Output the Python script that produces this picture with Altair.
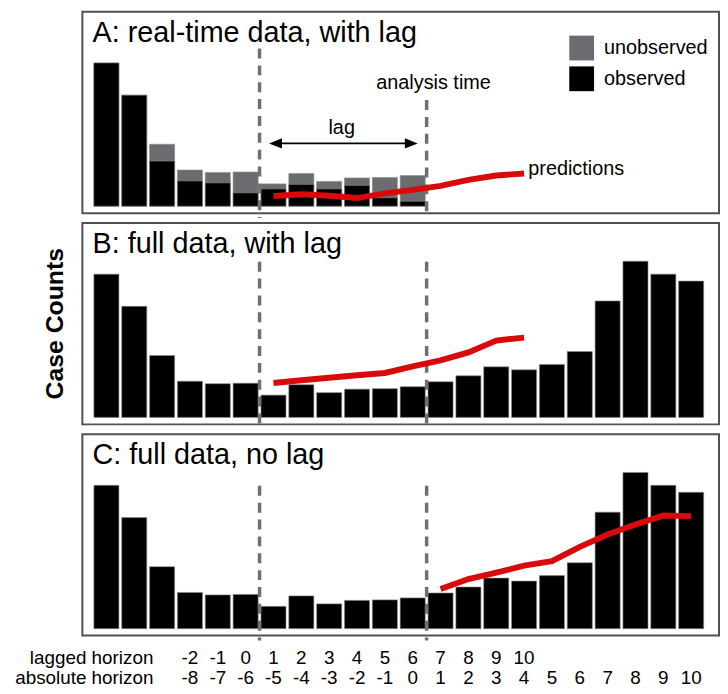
import altair as alt
import pandas as pd

# ---------------- data ----------------
bar_index = [1, 2, 3, 4, 5, 6, 7, 8, 9, 10, 11, 12, 13, 14, 15, 16, 17, 18, 19, 20, 21, 22]
full_counts = [144.5, 112, 62.5, 36.5, 34, 34.5, 22.5, 33, 25, 28.5, 29, 31,
               36, 42, 51, 48, 53.5, 66.5, 117.5, 157.5, 144.5, 137.5]
realtime_index = [1, 2, 3, 4, 5, 6, 7, 8, 9, 10, 11, 12]
realtime_total = [144.5, 112, 62.5, 36.5, 34, 34.5, 22.5, 33, 25, 28.5, 29, 31]
realtime_observed = [144.5, 112, 45.5, 25.5, 23.5, 13.5, 17.5, 22, 17.5, 21, 8.5, 5]

lag_pred_index = [7, 8, 9, 10, 11, 12, 13, 14, 15, 16]
pred_realtime_lag = [10.3, 12, 10.5, 8.2, 13, 16.5, 20.5, 26.5, 31, 33]
pred_full_lag = [34.8, 37.5, 40, 42.5, 44.8, 51.5, 57.5, 65.5, 77.5, 80.5]
nolag_pred_index = [13, 14, 15, 16, 17, 18, 19, 20, 21, 22]
pred_full_nolag = [40, 50, 56.5, 63.5, 68, 82.5, 95, 105, 114, 113.5]

lag_window_bounds = [6.5, 12.5]        # start of lag window, analysis time
dash_tops_A = [159, 107]
dash_tops_B = [157, 157]
dash_tops_C = [144, 144]

lagged_horizon = [-2, -1, 0, 1, 2, 3, 4, 5, 6, 7, 8, 9, 10]
absolute_horizon = [-8, -7, -6, -5, -4, -3, -2, -1, 0, 1, 2, 3, 4, 5, 6, 7, 8, 9, 10]
row_titles = ["lagged horizon", "absolute horizon"]
panel_titles = ["A: real-time data, with lag", "B: full data, with lag", "C: full data, no lag"]
legend_labels = ["unobserved", "observed"]
annotation_texts = ["lag", "analysis time", "predictions"]
y_title = "Case Counts"

# ---------------- style ----------------
FONT = "Liberation Sans"
W, H = 642, 203
XS = alt.Scale(domain=[0.137, 23.0], nice=False, zero=False)
YS = alt.Scale(domain=[-7, 196], nice=False, zero=False)
RED = "#d90a0a"
GRAY = "#6b6c6f"
DASH = "#707070"

x_axis = alt.Axis(values=list(range(1, 23, 2)), labels=False, title=None, domain=False,
                  grid=False, ticks=True, tickSize=5, tickWidth=1.5, tickColor="#555555")


def full_bars():
    df = pd.DataFrame({"bar": bar_index, "count": full_counts})
    return (alt.Chart(df)
            .transform_calculate(x0="datum.bar - 0.45", x1="datum.bar + 0.45", base="0")
            .mark_bar(color="black", stroke="#8a8a8a", strokeWidth=0.6)
            .encode(x=alt.X("x0:Q", scale=XS, axis=x_axis), x2="x1:Q",
                    y=alt.Y("count:Q", scale=YS, axis=None, stack=None),
                    y2="base:Q"))


def realtime_bars():
    df = pd.concat([
        pd.DataFrame({"bar": realtime_index, "count": realtime_total, "status": legend_labels[0]}),
        pd.DataFrame({"bar": realtime_index, "count": realtime_observed, "status": legend_labels[1]}),
    ], ignore_index=True)
    return (alt.Chart(df)
            .transform_calculate(x0="datum.bar - 0.45", x1="datum.bar + 0.45", base="0")
            .mark_bar(stroke="#8a8a8a", strokeWidth=0.6)
            .encode(x=alt.X("x0:Q", scale=XS, axis=x_axis), x2="x1:Q",
                    y=alt.Y("count:Q", scale=YS, axis=None, stack=None),
                    y2="base:Q",
                    color=alt.Color("status:N",
                                    scale=alt.Scale(domain=legend_labels, range=[GRAY, "black"]),
                                    legend=alt.Legend(title=None, orient="none", legendX=491, legendY=24,
                                                      symbolType="square", symbolSize=625,
                                                      symbolStrokeWidth=0, symbolOpacity=1,
                                                      labelFontSize=20, labelFont=FONT,
                                                      labelColor="black", labelOffset=10,
                                                      rowPadding=6, padding=0))))


def dashes(tops):
    df = pd.DataFrame({"vx": lag_window_bounds, "top": tops})
    return (alt.Chart(df)
            .mark_rule(strokeDash=[10, 7], strokeWidth=3.5, color=DASH)
            .encode(x=alt.X("vx:Q", scale=XS, axis=None),
                    y=alt.Y("top:Q", scale=YS, axis=None),
                    y2=alt.value(H + 5)))


def pred_line(idx, vals):
    df = pd.DataFrame({"bar": idx, "pred": vals})
    return (alt.Chart(df)
            .mark_line(color=RED, strokeWidth=6, strokeCap="butt")
            .encode(x=alt.X("bar:Q", scale=XS, axis=None),
                    y=alt.Y("pred:Q", scale=YS, axis=None)))


def panel_title(t):
    return (alt.Chart(pd.DataFrame({"t": [t]}))
            .mark_text(align="left", baseline="alphabetic", fontSize=29, font=FONT, color="black")
            .encode(x=alt.value(10.3), y=alt.value(30), text="t:N"))


def y_label(t):
    return (alt.Chart(pd.DataFrame({"t": [t]}))
            .mark_text(align="center", baseline="alphabetic", angle=270, fontSize=25,
                       fontWeight="bold", font=FONT, color="black")
            .encode(x=alt.value(-20), y=alt.value(H / 2), text="t:N"))


def note(t, x, y, align="center"):
    return (alt.Chart(pd.DataFrame({"t": [t], "x": [x], "y": [y]}))
            .mark_text(align=align, baseline="alphabetic", fontSize=20, font=FONT, color="black")
            .encode(x=alt.X("x:Q", scale=XS, axis=None), y=alt.Y("y:Q", scale=YS, axis=None),
                    text="t:N"))


def arrow():
    line = (alt.Chart(pd.DataFrame({"a": [6.84 + 0.3], "b": [12.18 - 0.3], "y": [63.3]}))
            .mark_rule(color="black", strokeWidth=1.8)
            .encode(x=alt.X("a:Q", scale=XS, axis=None), x2="b:Q",
                    y=alt.Y("y:Q", scale=YS, axis=None)))
    left = (alt.Chart(pd.DataFrame({"x": [6.84], "y": [63.3]}))
            .mark_point(shape="M0,0L2,-0.8L2,0.8Z", filled=True, size=169, color="black",
                        opacity=1, strokeWidth=0)
            .encode(x=alt.X("x:Q", scale=XS, axis=None), y=alt.Y("y:Q", scale=YS, axis=None)))
    right = (alt.Chart(pd.DataFrame({"x": [12.18], "y": [63.3]}))
             .mark_point(shape="M0,0L-2,-0.8L-2,0.8Z", filled=True, size=169, color="black",
                         opacity=1, strokeWidth=0)
             .encode(x=alt.X("x:Q", scale=XS, axis=None), y=alt.Y("y:Q", scale=YS, axis=None)))
    return [line, left, right]


def horizon_row(values, offset, ypix):
    df = pd.DataFrame({"h": values, "label": [str(v) for v in values]})
    return (alt.Chart(df)
            .transform_calculate(bar=f"datum.h + {offset}")
            .mark_text(align="center", baseline="alphabetic", fontSize=19, font=FONT, color="black")
            .encode(x=alt.X("bar:Q", scale=XS, axis=None), y=alt.value(ypix), text="label:N"))


def row_title(t, ypix):
    return (alt.Chart(pd.DataFrame({"t": [t]}))
            .mark_text(align="right", baseline="alphabetic", fontSize=19, font=FONT, color="black")
            .encode(x=alt.value(71.6), y=alt.value(ypix), text="t:N"))


# ---------------- panels ----------------
panel_a = alt.layer(
    realtime_bars(),
    dashes(dash_tops_A),
    pred_line(lag_pred_index, pred_realtime_lag),
    panel_title(panel_titles[0]),
    note(annotation_texts[0], 9.45, 72.7),
    *arrow(),
    note(annotation_texts[1], 10.69, 118, align="left"),
    note(annotation_texts[2], 16.15, 31.5, align="left"),
).properties(width=W, height=H)

panel_b = alt.layer(
    full_bars(),
    dashes(dash_tops_B),
    pred_line(lag_pred_index, pred_full_lag),
    panel_title(panel_titles[1]),
    y_label(y_title),
).properties(width=W, height=H)

ROW1, ROW2 = H + 29, H + 48.5
panel_c = alt.layer(
    full_bars(),
    dashes(dash_tops_C),
    pred_line(nolag_pred_index, pred_full_nolag),
    panel_title(panel_titles[2]),
    row_title(row_titles[0], ROW1),
    row_title(row_titles[1], ROW2),
    horizon_row(lagged_horizon, 6, ROW1),
    horizon_row(absolute_horizon, 12, ROW2),
).properties(width=W, height=H)

chart = (alt.vconcat(panel_a, panel_b, panel_c, spacing=10, bounds="flush")
         .properties(padding={"left": 6, "top": 0, "right": 0, "bottom": 0}, background="white")
         .configure_view(stroke="#505050", strokeWidth=2))

chart.save("out.html", embed_options={"renderer": "svg", "actions": False})
